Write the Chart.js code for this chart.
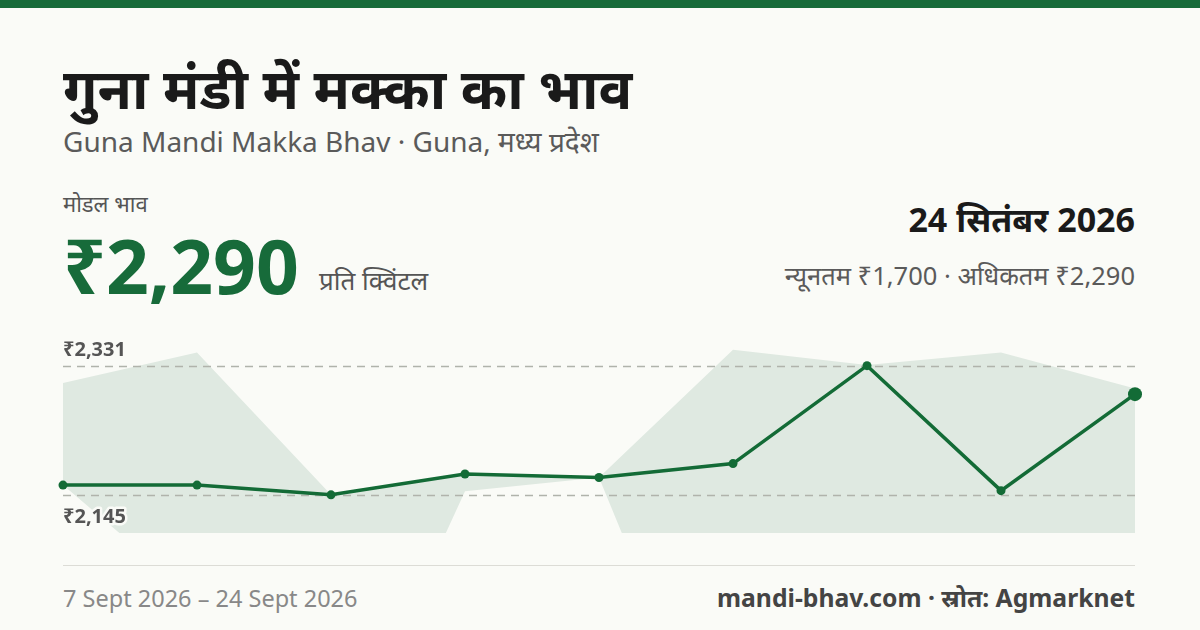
<!DOCTYPE html>
<html><head><meta charset="utf-8">
<script src="https://cdn.jsdelivr.net/npm/chart.js@4"></script>
<style>
body{margin:0;width:1200px;height:630px;background:#fafbf7;font-family:"Noto Sans","Noto Sans Devanagari",sans-serif;position:relative;overflow:hidden}
.t{position:absolute;white-space:nowrap}
</style></head><body>
<div style="position:absolute;left:0;top:0;width:1200px;height:8px;background:#176b3a"></div>
<div class="t" style="left:63px;top:49px;font-size:56px;font-weight:700;color:#1a1a1a">गुना मंडी में मक्का का भाव</div>
<div class="t" style="left:63px;top:122px;font-size:28px;color:#5a5a5a">Guna Mandi Makka Bhav · Guna, मध्य प्रदेश</div>
<div class="t" style="left:63px;top:188px;font-size:22px;color:#555">मोडल भाव</div>
<div class="t" style="left:63px;top:220px;font-size:75px;font-weight:700;color:#176b3a;line-height:90px">₹2,290</div>
<div class="t" style="left:319px;top:262px;font-size:26px;color:#555">प्रति क्विंटल</div>
<div class="t" style="right:65px;top:196px;font-size:34px;font-weight:700;color:#1a1a1a">24 सितंबर 2026</div>
<div class="t" style="right:65px;top:258px;font-size:25.5px;color:#5a5a5a">न्यूनतम ₹1,700 · अधिकतम ₹2,290</div>
<div style="position:absolute;left:63px;top:565px;width:1072px;height:1px;background:#dcdcd6"></div>
<div class="t" style="left:63px;top:582px;font-size:23.5px;color:#888">7 Sept 2026 – 24 Sept 2026</div>
<div class="t" style="right:65px;top:581px;font-size:24.7px;font-weight:700;color:#444">mandi-bhav.com · स्रोत: Agmarknet</div>
<div style="position:absolute;left:53px;top:330px;width:1092px;height:213px"><canvas id="c"></canvas></div>
<script>
const dates=["7 Sept","8 Sept","9 Sept","10 Sept","11 Sept","12 Sept","13 Sept","14 Sept","24 Sept"];
const modal=[2159,2159,2145,2175,2170,2190,2331,2151,2290];
const maxPrice=[2306,2350,2145,2175,2170,2354,2332,2350,2298];
const minPrice=[2159,1995,1730,2150,2170,1700,1700,1700,1700];
const refTicks=[2331,2145];
const refLabels=["₹2,331","₹2,145"];
const green="#136b36";
const refPlugin={id:"ref",afterDatasetDraw(ch,args){if(args.index!==0)return;const c=ch.ctx,a=ch.chartArea,y=ch.scales.y;c.save();c.setLineDash([8,6]);c.strokeStyle="#b0b3ab";c.lineWidth=1.5;
refTicks.forEach(v=>{const p=Math.round(y.getPixelForValue(v))+0.5;c.beginPath();c.moveTo(a.left,p);c.lineTo(a.right,p);c.stroke();});c.restore();},
afterDatasetsDraw(ch){const c=ch.ctx,a=ch.chartArea,y=ch.scales.y;c.save();c.font="700 20px 'Noto Sans'";c.fillStyle="#555";c.lineJoin="round";
refTicks.forEach((v,i)=>{const p=y.getPixelForValue(v);const yy=i==0?p-10:p+28;if(i==1){c.strokeStyle="#fafbf7";c.lineWidth=5;c.strokeText(refLabels[i],a.left,yy);}c.fillText(refLabels[i],a.left,yy);});c.restore();}};
new Chart(document.getElementById("c"),{type:"line",
data:{labels:dates,datasets:[
{data:maxPrice,borderWidth:0,pointRadius:0,fill:"+1",backgroundColor:"#dfe9e1",order:3},
{data:minPrice,borderWidth:0,pointRadius:0,fill:false,order:4},
{data:modal,borderColor:green,borderWidth:3.5,backgroundColor:green,pointBackgroundColor:green,pointBorderWidth:0,
 pointRadius:modal.map((v,i)=>i==modal.length-1?7:4.5),fill:false,clip:false,tension:0,order:1}]},
options:{responsive:true,maintainAspectRatio:false,animation:false,
layout:{padding:{left:10,right:10,top:10,bottom:10}},
plugins:{legend:{display:false},tooltip:{enabled:false}},
scales:{x:{display:false},y:{display:false,min:2090,max:2368}}},
plugins:[refPlugin]});
</script></body></html>
